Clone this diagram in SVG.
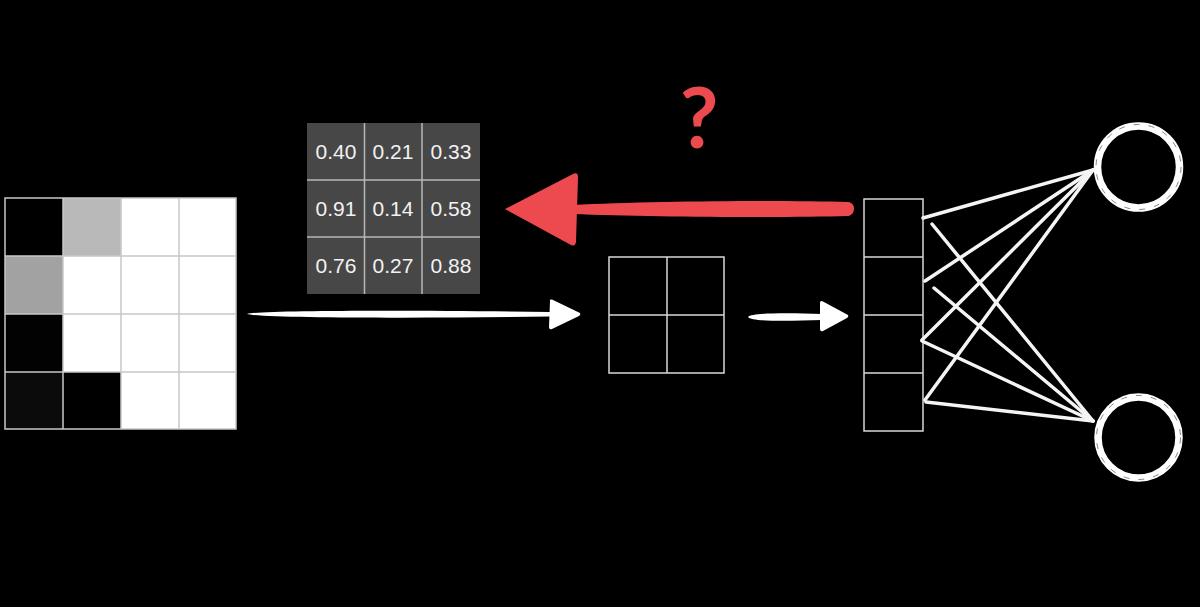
<svg xmlns="http://www.w3.org/2000/svg" width="1200" height="607" viewBox="0 0 1200 607">
  <defs>
    <style>
      .gridline { stroke: #c8c8c8; stroke-width: 1.5; fill: none; }
      .wline { stroke: #b8b8b8; stroke-width: 1.5; fill: none; }
      .num { font-family: "Liberation Sans", Arial, sans-serif; font-size: 21px; fill: #f2f2f2; text-anchor: middle; }
      .thin { stroke: #d8d8d8; stroke-width: 1.5; fill: none; }
      .conn { stroke: #f4f4f4; stroke-width: 3.5; stroke-linecap: round; fill: none; }
      .ring { fill: none; stroke: #ffffff; stroke-width: 7.5; }
      .white { fill: #ffffff; }
      .red { fill: #ec4a4f; }
    </style>
  </defs>
  <rect x="0" y="0" width="1200" height="607" fill="#000000"/>

  <!-- Input image grid -->
  <g id="input-image">
    <rect x="5" y="198" width="231" height="231" fill="#ffffff"/>
    <rect x="5" y="198" width="58" height="58" fill="#000000"/>
    <rect x="63" y="198" width="58" height="58" fill="#b9b9b9"/>
    <rect x="5" y="256" width="58" height="58" fill="#a2a2a2"/>
    <rect x="5" y="314" width="58" height="58" fill="#020202"/>
    <rect x="5" y="372" width="58" height="57" fill="#0b0b0b"/>
    <rect x="63" y="372" width="58" height="57" fill="#000000"/>
    <path class="gridline" d="M63 198V429M121 198V429M179 198V429M5 256H236M5 314H236M5 372H236"/>
    <rect class="gridline" x="5" y="198" width="231" height="231"/>
  </g>

  <!-- Weight matrix -->
  <g id="weights">
    <rect x="307" y="123" width="173" height="171" fill="#474747"/>
    <path class="wline" d="M364.5 123V294M422 123V294M307 180H480M307 237H480"/>
    <text class="num" x="336" y="159">0.40</text>
    <text class="num" x="393" y="159">0.21</text>
    <text class="num" x="451" y="159">0.33</text>
    <text class="num" x="336" y="216">0.91</text>
    <text class="num" x="393" y="216">0.14</text>
    <text class="num" x="451" y="216">0.58</text>
    <text class="num" x="336" y="273">0.76</text>
    <text class="num" x="393" y="273">0.27</text>
    <text class="num" x="451" y="273">0.88</text>
  </g>

  <!-- Question mark -->
  <g id="question">
    <text x="699" y="148" font-family="Lato, 'Liberation Sans', sans-serif" font-size="84" font-weight="bold" fill="#ec4a4f" text-anchor="middle">?</text>
  </g>

  <!-- Feature map 2x2 -->
  <g id="feature-map">
    <rect class="thin" x="609" y="257" width="115" height="116"/>
    <path class="thin" d="M667 257V373M609 315H724"/>
  </g>

  <!-- Flattened vector -->
  <g id="vector">
    <rect class="thin" x="864" y="199" width="59" height="232"/>
    <path class="thin" d="M864 257H923M864 315H923M864 373H923"/>
  </g>

  <!-- Output neurons -->
  <g id="neuron-top">
    <circle class="ring" cx="1138.5" cy="167" r="41"/>
    <circle cx="1138.5" cy="167" r="42.5" fill="none" stroke="#000" stroke-width="0.8" stroke-dasharray="6 9" opacity="0.6"/>
  </g>
  <g id="neuron-bottom">
    <circle class="ring" cx="1138.5" cy="437.5" r="40.5"/>
    <circle cx="1138.5" cy="437.5" r="42" fill="none" stroke="#000" stroke-width="0.8" stroke-dasharray="6 9" opacity="0.6"/>
  </g>

  <!-- Connectors -->
  <g id="connectors">
    <!-- forward arrow 1 -->
    <path class="white" d="M247 314 C260 310 420 310 550 312 L550 316.5 C420 318.5 260 318 247 314 Z"/>
    <path class="white" d="M550 301 Q549 299 552 299.5 L580 313 Q581 315 579 316 L552 329 Q549 330 549 327 Z"/>
    <!-- forward arrow 2 -->
    <path class="white" d="M748 317 C752 312.5 790 313 822 314 L822 320 C790 321 752 322 748 317 Z"/>
    <path class="white" d="M820 303 Q820 300 823 301.5 L848 315 Q849 317 847 318 L823 331 Q820 332 820 329 Z"/>
    <!-- red backward arrow -->
    <path class="red" d="M572 205 C650 201 780 200 848 202 C856 203 856 214 848 216 C780 218 650 217 572 214 Z"/>
    <path class="red" d="M505 209 L574 173.5 Q578 172 578 177 L576 242 Q575 247 571 245 Z"/>
    <!-- dense connections -->
    <path class="conn" d="M923 218 L1093 170"/>
    <path class="conn" d="M925 281 L1093 170"/>
    <path class="conn" d="M922 340 L1093 170"/>
    <path class="conn" d="M925 400 L1093 170"/>
    <path class="conn" d="M932 224 L1093 421"/>
    <path class="conn" d="M934 288 L1093 421"/>
    <path class="conn" d="M922 341 L1093 421"/>
    <path class="conn" d="M926 402 L1093 421"/>
  </g>
</svg>
